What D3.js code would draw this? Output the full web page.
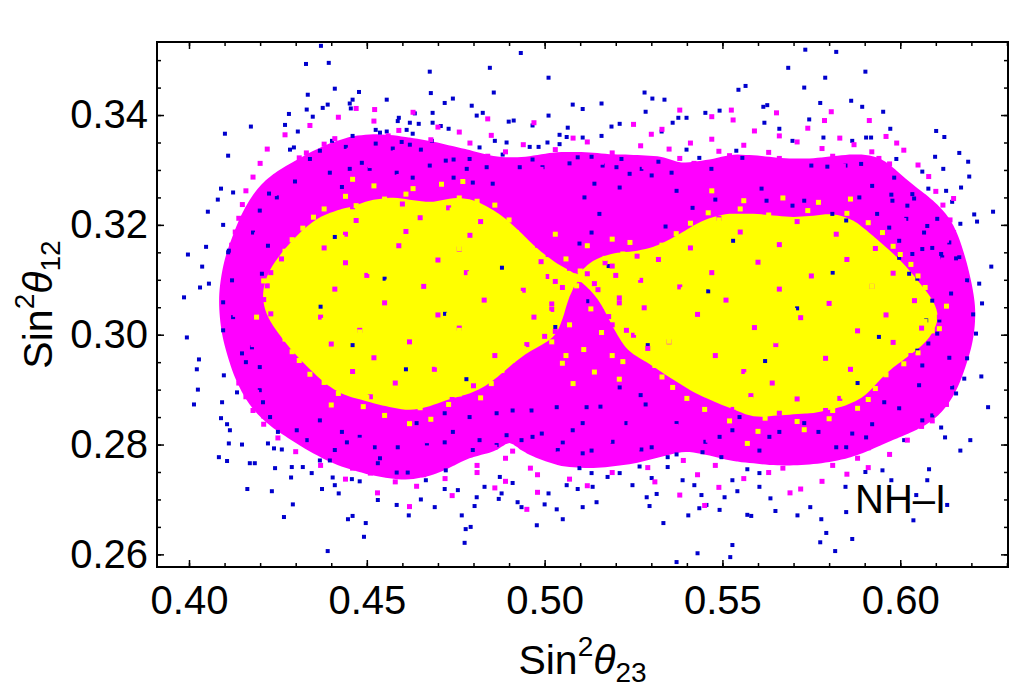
<!DOCTYPE html>
<html>
<head>
<meta charset="utf-8">
<script src="https://cdn.jsdelivr.net/npm/d3@7"></script>
<style>
  body { margin: 0; background: #fff; }
  text { font-family: "Liberation Sans", Arial, Helvetica, sans-serif; }
</style>
</head>
<body>
<svg id="chart" width="1024" height="690"></svg>
<script>
// tick labels
const xTicks = [0.40, 0.45, 0.50, 0.55, 0.60];
const yTicks = [0.26, 0.28, 0.30, 0.32, 0.34];
const panelLabel = 'NH\u2013I';

// [sin^2 theta23, sin^2 theta12]
const bluePts = [
  [.4371,.3526],[.4329,.3493],[.4393,.3495],[.4933,.3513],[.4677,.3479],[.4846,.3486],[.5011,.3468],[.4334,.3437],[.441,.3448],[.4478,.3442],
  [.4556,.3428],[.468,.344],[.4857,.3441],[.4101,.3366],[.411,.3326],[.4174,.3379],[.4281,.3402],[.427,.3382],[.409,.3266],[.4081,.3246],
  [.4053,.3224],[.4124,.3259],[.4096,.32],[.3997,.3146],[.4048,.316],[.4037,.3124],[.4031,.3086],[.4112,.3153],[.4795,.3417],[.4826,.3404],
  [.4899,.3388],[.5011,.3399],[.5079,.3419],[.5042,.3364],[.4966,.3381],[.4635,.3403],[.4587,.3389],
  [.5733,.3519],[.582,.3515],[.5685,.3486],[.5789,.3468],[.5902,.3479],[.573,.345],[.5565,.3453],[.5545,.3446],[.5775,.3422],[.5862,.3426],
  [.5893,.3415],[.5952,.3406],[.5972,.3375],[.6101,.3371],[.6124,.336],[.6166,.3331],[.6191,.3315],[.6194,.3288],[.6171,.3268],[.6208,.3219],
  [.6216,.3206],[.6261,.3224],[.6256,.3124],[.6062,.3297],[.6121,.3302],[.6098,.3324],[.6129,.3262],[.6079,.3266],[.6146,.3242],[.6169,.3202],
  [.6138,.3168],[.6157,.3139],[.5107,.3411],[.516,.3421],[.5281,.3441],[.5303,.343],[.5337,.3428],[.5452,.3404],[.5492,.3408],[.5615,.3415],
  [.5626,.3418],[.5284,.3406],[.5744,.3392],[.5399,.3395],[.5376,.3395],[.5211,.3384],[.5188,.3379],[.5329,.337],[.536,.3386],[.5107,.3359],[.516,.3362],
  [.6222,.3093],[.623,.3057],[.6205,.3037],[.6213,.3002],[.6188,.2957],[.6228,.2924],[.618,.292],[.6157,.2893],[.6247,.2868],[.6197,.2808],
  [.6169,.2789],[.6126,.2813],[.609,.2853],[.6115,.2831],[.6062,.2844],[.6081,.2755],[.6076,.2735],[.5975,.2735],[.595,.2753],[.6045,.2708],
  [.6037,.2662],[.6132,.269],[.5902,.275],[.5846,.2723],[.5848,.2677],[.5792,.2639],[.5817,.2606],[.5865,.2628],[.5775,.2622],[.5778,.2664],
  [.5747,.2686],[.5711,.2671],[.5635,.2702],[.5649,.2679],[.5581,.267],[.557,.2672],[.5528,.2617],[.5522,.2595],[.543,.2602],[.5371,.2586],
  [.5334,.2657],[.5404,.2671],[.5435,.2684],[.5455,.269],[.5492,.2681],[.5506,.2704],[.5542,.2715],[.5604,.2723],[.5528,.2735],[.557,.2755],
  [.5604,.2748],[.5497,.2777],[.5441,.2708],[.5388,.2735],[.5346,.2759],[.5421,.2726],[.5315,.271],[.5295,.2688],[.5287,.2704],[.5247,.2726],
  [.5211,.2748],[.5177,.2741],[.5135,.2723],[.5107,.2686],[.5146,.2695],[.5098,.2757],[.5132,.2748],[.5301,.2739],[.5371,.2782],[.5346,.2777],
  [.5267,.276],[.5272,.2791],[.5301,.2795],[.5132,.2789],[.5107,.2784],[.5191,.2805],[.523,.2839],[.5157,.2869],[.5118,.2868],[.5107,.2839],
  [.5211,.2904],[.527,.289],[.5284,.2873],[.5371,.2839],[.5444,.2786],[.5452,.2805],[.5492,.2814],[.5528,.2826],[.5548,.285],[.5604,.2789],
  [.5632,.2814],[.566,.2823],[.573,.2839],[.577,.2823],[.582,.2795],[.5848,.2795],[.5865,.282],[.5904,.2813],[.5921,.2837],[.5955,.2877],
  [.5997,.2866],[.6011,.2808],[.6053,.2908],[.6062,.2944],[.6048,.2971],[.6079,.2984],[.6104,.3002],[.6138,.2958],[.6146,.2904],[.611,.3026],
  [.609,.3062],[.6143,.3075],[.6073,.3026],[.6118,.3141],[.6166,.3141],[.6048,.3102],
  [.3986,.3068],[.4056,.3093],[.3994,.2995],[.4028,.2955],[.4022,.2937],[.4025,.29],[.4014,.2873],[.4098,.2926],[.4096,.3008],[.409,.2848],
  [.4107,.2837],[.4115,.2826],[.4112,.2802],[.4084,.2777],[.4107,.277],[.4093,.2877],[.4135,.2895],[.4149,.28],[.4164,.2719],[.4171,.2766],
  [.4185,.2766],[.4233,.2715],[.4242,.2757],[.4267,.2668],[.4292,.2691],[.4287,.274],[.432,.2759],[.4345,.2748],[.4374,.2719],[.441,.2726],
  [.4421,.2711],[.439,.2606],[.4447,.2664],[.446,.267],[.4492,.2632],[.4497,.2657],[.4531,.2699],[.4584,.269],[.4618,.2671],[.4652,.27],
  [.4691,.2686],[.4719,.2719],[.4767,.2671],[.4775,.2621],[.4778,.2646],[.4792,.265],[.4803,.2688],[.4809,.2704],[.4831,.2723],[.4871,.2701],
  [.4879,.2711],[.4924,.2695],[.4935,.2686],[.4978,.2653],[.5,.2691],[.5011,.2711],[.5034,.2682],[.5051,.2664],[.5062,.2726],[.5093,.2719],
  [.491,.273],[.4874,.2741],[.4756,.2717],[.4722,.2753],[.4666,.2735],[.4615,.2749],[.4584,.2749],[.4531,.2766],[.448,.2733],[.4458,.2737],
  [.4404,.274],[.4289,.2759],[.4261,.2791],[.4239,.2793],[.4222,.2802],[.4368,.2771],[.4396,.2771],[.441,.279],[.4444,.2804],[.448,.2814],
  [.4537,.2775],[.4587,.2795],[.4669,.2802],[.4719,.2804],[.4742,.2823],[.4798,.279],[.4817,.2808],[.4865,.2799],[.4893,.2817],[.4935,.2808],
  [.4966,.2814],[.4992,.282],[.5037,.279],[.5051,.2804],[.5079,.2826],[.5034,.2868],[.4963,.2862],[.491,.2862],[.4865,.2857],[.4789,.285],
  [.4719,.2857],[.464,.2839],[.4522,.2795],[.443,.2823],[.4368,.2844],[.4331,.2808],[.4303,.2826],[.425,.2823],[.4228,.285],[.4208,.2877],
  [.4199,.2899],[.416,.295],[.4149,.2966],[.4199,.2941],[.4177,.2977],[.4124,.3032],[.4096,.3059],[.411,.315],[.4121,.3099],
  [.4306,.337],[.4284,.3337],[.4295,.3341],[.4368,.3335],[.434,.332],[.4348,.3397],[.4331,.341],[.4376,.3413],[.439,.3419],[.4452,.3421],
  [.4455,.3412],[.446,.3428],[.4402,.3353],[.446,.3362],[.4441,.3342],[.4525,.3373],[.4537,.3368],[.4556,.337],[.459,.3395],[.4612,.3373],
  [.4621,.3386],[.4646,.3384],[.4685,.3386],[.4708,.338],[.473,.3375],[.4685,.3404],[.4719,.3422],[.4742,.343],[.4629,.3366],[.4525,.3348],
  [.4573,.3339],[.4598,.3351],[.4621,.3346],[.4652,.3337],[.4683,.3353],[.4722,.3317],[.4744,.3319],[.4789,.332],[.4817,.3341],[.4809,.3399],
  [.486,.3353],[.4882,.3328],[.4893,.335],[.4913,.339],[.4958,.3342],[.4983,.3342],[.5008,.335],[.5042,.3347],[.5062,.336],[.5065,.3377],
  [.5093,.3323],[.493,.3305],[.4966,.3319],[.4994,.3305],[.507,.3312],[.4837,.3305],[.4584,.3295],[.4629,.3286],[.4677,.3308],[.4744,.3286],
  [.4781,.3302],[.4798,.3277],[.4854,.3275],[.4486,.3313],[.4508,.3302],[.4452,.3302],[.443,.3269],[.4396,.3295],[.4298,.3279],[.4247,.325],
  [.4225,.3257],[.4199,.3226],[.418,.3186],[.4222,.3162],[.4205,.3111],
  [.5132,.3324],[.5163,.3308],[.5202,.3305],[.5216,.332],[.5239,.3293],[.5272,.3302],[.5301,.329],[.532,.3315],[.5357,.3295],[.5399,.3337],
  [.5435,.3322],[.5469,.3302],[.5539,.3335],[.5556,.3322],[.5618,.3386],[.566,.3375],[.5697,.3353],[.575,.3308],[.5784,.3359],[.5795,.3306],
  [.5846,.3308],[.5865,.3353],[.5904,.3359],[.5918,.3359],[.589,.3311],[.5989,.332],[.5983,.3286],[.5921,.3271],[.5975,.3255],[.5978,.3244],
  [.6034,.3256],[.6039,.3248],[.602,.3235],[.6017,.3211],[.6076,.3198],[.6067,.3186],[.6104,.3211],[.6115,.3147],[.609,.3158],[.6062,.3156],
  [.6188,.3099],[.5997,.3171],[.6034,.3147],[.514,.3275],[.5211,.3268],[.5112,.325],[.5154,.322],[.5132,.3186],[.5098,.3166],[.5371,.3262],
  [.5416,.3231],[.548,.3246],[.561,.3266],[.5624,.3244],[.5697,.3235],[.573,.3244],[.5809,.322],[.5848,.3208],[.5885,.325],[.5935,.322],
  [.5969,.3195],[.5997,.314],[.6025,.3111],
  [.455,.3102],[.472,.3038],[.446,.2981],[.488,.3122],[.461,.2937],[.437,.3051],[.503,.3014],[.518,.3125],[.529,.2981],[.546,.3079],
  [.562,.2952],[.581,.3113],[.594,.2996],[.571,.3048],[.553,.3171],[.588,.2912],[.441,.3178],[.478,.2919],[.512,.3061],[.534,.3197]
];

const magentaPts = [
  [.447,.3412],[.4522,.341],[.463,.3405],[.538,.3409],[.5525,.3409],[.5652,.3404],[.5806,.3406],
  [.442,.3396],[.484,.3393],[.547,.3397],
  [.434,.3381],[.452,.3389],[.470,.3378],[.497,.3386],[.525,.3383],[.553,.3391],[.5787,.339],[.5913,.339],
  [.459,.3372],[.476,.3369],[.533,.3374],[.559,.3371],[.574,.3376],
  [.427,.3364],[.441,.3357],[.456,.3362],[.468,.3355],[.485,.3363],[.508,.3358],[.530,.3365],[.547,.3356],[.566,.3362],[.583,.3358],[.596,.3361],
  [.438,.3347],[.451,.3352],[.464,.3344],[.479,.3349],[.494,.3346],[.512,.3351],[.527,.3344],[.541,.3349],[.556,.3345],[.571,.3351],[.587,.3346],[.599,.3349],
  [.422,.3338],[.433,.3331],[.445,.3336],[.458,.3332],[.472,.3339],[.489,.3333],[.503,.3337],[.519,.3331],[.535,.3338],[.549,.3334],[.563,.3332],[.578,.3339],[.592,.3333],[.601,.3336],
  [.431,.3322],[.446,.3326],[.467,.3321],[.484,.3325],[.498,.3321],[.511,.3326],[.538,.3321],[.552,.3326],[.566,.3321],[.581,.3325],[.594,.3321],
  [.420,.3312],[.429,.3306],[.440,.3314],[.451,.3308],[.462,.3315],[.476,.3307],[.491,.3313],[.505,.3309],[.516,.3314],[.528,.3306],[.542,.3312],[.557,.3308],[.571,.3315],[.584,.3307],[.597,.3311],[.605,.3309],
  [.418,.3287],[.426,.3281],[.436,.3289],[.448,.3283],[.459,.3288],[.471,.3282],[.484,.3286],[.497,.3281],[.509,.3289],[.521,.3284],[.534,.3288],[.548,.3282],[.562,.3287],[.575,.3283],[.589,.3286],[.600,.3281],[.608,.3288],
  [.416,.3262],[.424,.3257],[.433,.3264],[.445,.3258],[.457,.3263],[.469,.3256],[.482,.3261],[.494,.3257],[.506,.3264],[.518,.3258],[.531,.3262],[.545,.3256],[.559,.3263],[.573,.3259],[.588,.3262],[.599,.3257],[.610,.3261],
  [.415,.3237],[.422,.3232],[.431,.3239],[.446,.3233],[.460,.3238],[.473,.3231],[.489,.3236],[.500,.3232],[.511,.3239],[.524,.3234],[.537,.3237],[.552,.3231],[.568,.3238],[.582,.3233],[.596,.3237],[.604,.3232],[.612,.3236],
  [.414,.3212],[.421,.3207],[.429,.3214],[.447,.3208],[.465,.3213],[.482,.3206],[.497,.3212],[.508,.3208],[.519,.3214],[.531,.3207],[.549,.3212],[.571,.3206],[.590,.3213],[.601,.3208],[.608,.3214],[.614,.3209],
  [.413,.3187],[.419,.3182],[.427,.3189],[.444,.3183],[.461,.3188],[.479,.3181],[.496,.3186],[.507,.3182],[.516,.3189],[.529,.3184],[.555,.3187],[.582,.3183],[.600,.3188],[.609,.3182],[.615,.3186],
  [.412,.3163],[.418,.3157],[.425,.3164],[.438,.3158],[.459,.3162],[.476,.3156],[.498,.3163],[.510,.3157],[.521,.3161],[.541,.3158],[.566,.3164],[.593,.3157],[.604,.3162],[.611,.3158],[.616,.3163],
  [.413,.3137],[.419,.3132],[.426,.3138],[.444,.3131],[.470,.3136],[.499,.3133],[.508,.3138],[.517,.3131],[.532,.3137],[.560,.3132],[.585,.3137],[.606,.3131],[.612,.3136],[.617,.3133],
  [.412,.3112],[.417,.3107],[.423,.3113],[.450,.3108],[.478,.3113],[.501,.3106],[.512,.3111],[.520,.3108],[.547,.3113],[.575,.3107],[.598,.3112],[.607,.3106],[.614,.3111],
  [.413,.3087],[.418,.3082],[.422,.3089],[.441,.3083],[.466,.3088],[.494,.3081],[.505,.3086],[.515,.3082],[.538,.3087],[.566,.3083],[.592,.3088],[.610,.3082],[.616,.3086],
  [.412,.3062],[.416,.3057],[.421,.3064],[.455,.3058],[.483,.3063],[.502,.3056],[.511,.3061],[.521,.3058],[.551,.3063],[.580,.3057],[.604,.3062],[.612,.3058],[.617,.3063],
  [.413,.3037],[.418,.3031],[.423,.3038],[.437,.3032],[.470,.3036],[.497,.3032],[.507,.3038],[.518,.3033],[.543,.3037],[.572,.3031],[.596,.3036],[.611,.3032],[.616,.3037],
  [.412,.3012],[.417,.3007],[.422,.3013],[.448,.3008],[.476,.3012],[.503,.3006],[.514,.3011],[.523,.3008],[.559,.3013],[.588,.3007],[.606,.3012],[.613,.3008],[.617,.3011],
  [.413,.2987],[.418,.2982],[.424,.2988],[.440,.2983],[.462,.2987],[.495,.2982],[.506,.2988],[.516,.2983],[.535,.2987],[.565,.2982],[.598,.2986],[.610,.2983],[.615,.2988],
  [.413,.2962],[.419,.2957],[.425,.2963],[.452,.2958],[.486,.2962],[.500,.2957],[.510,.2963],[.520,.2958],[.548,.2962],[.579,.2957],[.603,.2962],[.611,.2958],[.616,.2963],
  [.414,.2937],[.420,.2932],[.427,.2938],[.446,.2933],[.469,.2937],[.493,.2932],[.504,.2938],[.513,.2932],[.523,.2937],[.556,.2933],[.586,.2937],[.601,.2932],[.609,.2936],[.615,.2933],
  [.414,.2912],[.421,.2907],[.429,.2913],[.437,.2908],[.458,.2912],[.480,.2907],[.497,.2913],[.507,.2908],[.517,.2912],[.530,.2907],[.564,.2912],[.597,.2908],[.604,.2913],[.610,.2907],[.614,.2911],
  [.416,.2887],[.423,.2882],[.430,.2888],[.439,.2883],[.451,.2887],[.474,.2882],[.490,.2888],[.501,.2883],[.511,.2887],[.521,.2882],[.535,.2888],[.558,.2889],[.571,.2883],[.583,.2884],[.596,.2887],[.603,.2882],[.608,.2888],[.612,.2883],
  [.418,.2862],[.425,.2857],[.432,.2863],[.441,.2858],[.449,.2862],[.463,.2857],[.483,.2863],[.495,.2858],[.506,.2862],[.516,.2857],[.527,.2863],[.541,.2858],[.553,.2864],[.566,.2857],[.579,.2862],[.592,.2862],[.599,.2857],[.605,.2863],[.610,.2858],
  [.421,.2837],[.428,.2832],[.435,.2838],[.443,.2833],[.452,.2837],[.461,.2832],[.476,.2838],[.489,.2833],[.501,.2837],[.512,.2832],[.524,.2838],[.537,.2833],[.549,.2837],[.562,.2835],[.575,.2838],[.588,.2832],[.598,.2838],[.606,.2833],
  [.425,.2812],[.432,.2807],[.440,.2813],[.448,.2808],[.457,.2812],[.467,.2807],[.479,.2813],[.492,.2808],[.505,.2812],[.518,.2807],[.531,.2813],[.546,.2808],[.565,.2812],[.583,.2807],[.596,.2813],[.602,.2808],
  [.436,.2798],[.451,.2794],[.463,.2799],[.486,.2795],[.511,.2799],[.526,.2794],[.541,.2797],[.558,.2793],[.575,.2798],[.591,.2794],
  [.430,.2787],[.438,.2782],[.447,.2788],[.456,.2783],[.466,.2787],[.478,.2782],[.491,.2788],[.504,.2783],[.517,.2787],[.532,.2782],[.549,.2788],[.568,.2783],[.584,.2787],[.597,.2782],
  [.443,.2772],[.461,.2776],[.474,.2771],[.489,.2775],[.503,.2771],[.522,.2776],[.539,.2771],[.557,.2775],[.573,.2771],[.588,.2775],
  [.437,.2762],[.446,.2757],[.457,.2763],[.468,.2758],[.481,.2762],[.496,.2757],[.511,.2763],[.529,.2758],[.548,.2762],[.567,.2757],[.581,.2762],[.591,.2758],
  [.451,.2748],[.466,.2745],[.481,.2749],[.498,.2745],[.519,.2749],[.543,.2745],[.563,.2749],[.585,.2746],
  [.444,.2737],[.458,.2732],[.472,.2738],[.489,.2733],[.507,.2737],[.531,.2732],[.556,.2738],[.578,.2733],
  [.464,.2724],[.486,.2721],[.512,.2725],[.549,.2722],[.572,.2719],
  [.453,.2712],[.474,.2707],[.498,.2713],[.538,.2708],[.569,.2712],
  [.462,.2687],[.495,.2682],[.545,.2689],
  // sides
  [.416,.3112],[.415,.3038],[.417,.2962],[.419,.2895],[.615,.3248],[.613,.3172],[.618,.3091],[.619,.3024],[.617,.2948],[.613,.2873],
  [.609,.2843],[.419,.3248],[.421,.2852],
  // between the lobes
  [.499,.3301],[.513,.3296],[.526,.3303],[.504,.3272],[.517,.3268],[.529,.3275],[.497,.3247],[.509,.3251],[.522,.3244],[.503,.3221],
  [.514,.3226],[.527,.3219],[.498,.3196],[.511,.3199],[.524,.3193],[.505,.3171],[.516,.3176],[.529,.3169],[.501,.3146],[.513,.3149],
  [.526,.3143],[.507,.3121],[.519,.3125],[.503,.3097],[.514,.3093],[.527,.3099],[.509,.3071],[.521,.3067],[.502,.3046],[.516,.3042],
  [.528,.3049],[.507,.3022],[.519,.3018],[.500,.2997],[.512,.2993],[.525,.2999],[.505,.2972],[.517,.2968],[.529,.2975],[.501,.2947],
  [.513,.2943],[.526,.2949],[.507,.2921],[.519,.2918],[.531,.2924],[.504,.2896],[.516,.2892],[.528,.2899],[.510,.2871],[.522,.2867],
  [.534,.2874],[.507,.2846],[.519,.2842],[.531,.2849],[.513,.2821],[.526,.2817],[.509,.2797],[.523,.2793]
];

const yellowPts = [
  // left lobe
  [.452,.3271],[.463,.3266],[.471,.3274],
  [.444,.3252],[.455,.3247],[.461,.3256],[.476,.3249],[.481,.3243],
  [.438,.3229],[.447,.3235],[.458,.3224],[.466,.3232],[.474,.3227],[.486,.3236],
  [.435,.3214],[.441,.3206],[.453,.3217],[.459,.3208],[.470,.3213],[.478,.3205],[.484,.3216],[.490,.3209],
  [.432,.3194],[.440,.3187],[.448,.3196],[.455,.3189],[.463,.3193],[.469,.3185],[.477,.3197],[.485,.3190],[.492,.3186],
  [.429,.3173],[.436,.3166],[.443,.3177],[.452,.3169],[.458,.3175],[.466,.3167],[.473,.3172],[.481,.3178],[.487,.3165],[.494,.3171],
  [.427,.3152],[.434,.3145],[.441,.3156],[.447,.3148],[.455,.3154],[.462,.3146],[.468,.3151],[.476,.3157],[.483,.3144],[.489,.3152],[.496,.3148],
  [.426,.3127],[.431,.3135],[.439,.3128],[.446,.3136],[.452,.3125],[.460,.3133],[.467,.3129],[.473,.3137],[.480,.3126],[.488,.3134],[.497,.3128],
  [.425,.3109],[.433,.3104],[.438,.3113],[.445,.3106],[.451,.3115],[.457,.3107],[.464,.3112],[.471,.3104],[.479,.3111],[.485,.3106],[.492,.3114],[.499,.3108],
  [.424,.3089],[.429,.3095],[.436,.3086],[.442,.3094],[.449,.3087],[.456,.3096],[.462,.3088],[.469,.3093],[.475,.3085],[.482,.3092],[.490,.3087],[.497,.3095],
  [.423,.3071],[.431,.3066],[.437,.3075],[.444,.3068],[.450,.3073],[.458,.3065],[.465,.3074],[.472,.3067],[.478,.3072],[.486,.3066],[.493,.3075],[.500,.3069],
  [.424,.3054],[.430,.3047],[.439,.3052],[.445,.3045],[.453,.3056],[.459,.3048],[.466,.3053],[.474,.3046],[.481,.3055],[.487,.3049],[.495,.3052],
  [.425,.3028],[.432,.3035],[.438,.3026],[.446,.3033],[.452,.3027],[.460,.3034],[.467,.3029],[.473,.3036],[.480,.3025],[.488,.3032],[.494,.3027],[.499,.3034],
  [.426,.3013],[.433,.3006],[.440,.3014],[.448,.3005],[.455,.3012],[.461,.3007],[.469,.3015],[.476,.3008],[.483,.3013],[.490,.3006],[.497,.3011],
  [.427,.2992],[.435,.2985],[.442,.2994],[.449,.2987],[.457,.2993],[.464,.2986],[.471,.2995],[.478,.2988],[.485,.2992],[.493,.2986],
  [.429,.2969],[.437,.2975],[.444,.2966],[.451,.2973],[.459,.2968],[.466,.2976],[.473,.2967],[.480,.2974],[.488,.2969],[.494,.2975],
  [.431,.2953],[.439,.2946],[.447,.2955],[.454,.2948],[.462,.2954],[.470,.2945],[.477,.2952],[.484,.2947],[.491,.2954],
  [.434,.2928],[.442,.2935],[.450,.2926],[.458,.2933],[.465,.2927],[.474,.2934],[.481,.2929],[.488,.2935],
  [.438,.2913],[.446,.2906],[.454,.2912],[.462,.2905],[.470,.2914],[.478,.2907],[.485,.2911],
  [.442,.2893],[.450,.2886],[.459,.2894],[.467,.2888],[.476,.2892],[.482,.2885],
  [.449,.2869],[.457,.2875],[.465,.2867],[.473,.2873],
  [.455,.2853],[.468,.2846],
  [.419,.3032],[.421,.3098],[.446,.3283],[.477,.3279],[.462,.2838],[.440,.2872],
  // right lobe
  [.556,.3244],[.567,.3249],[.577,.3241],
  [.546,.3222],[.555,.3229],[.563,.3218],[.574,.3226],[.585,.3221],
  [.541,.3203],[.549,.3209],[.558,.3201],[.566,.3207],[.576,.3202],[.583,.3208],[.591,.3204],
  [.537,.3184],[.545,.3189],[.552,.3181],[.561,.3187],[.569,.3183],[.578,.3189],[.587,.3182],[.595,.3186],
  [.533,.3163],[.540,.3168],[.548,.3161],[.556,.3167],[.564,.3162],[.571,.3169],[.579,.3164],[.588,.3167],[.598,.3161],
  [.530,.3144],[.537,.3149],[.545,.3142],[.552,.3148],[.560,.3143],[.568,.3147],[.575,.3141],[.583,.3149],[.591,.3144],[.600,.3146],
  [.528,.3123],[.535,.3128],[.543,.3121],[.550,.3127],[.558,.3122],[.565,.3128],[.573,.3124],[.581,.3121],[.588,.3127],[.596,.3122],[.603,.3128],
  [.526,.3104],[.533,.3101],[.541,.3108],[.548,.3102],[.556,.3107],[.563,.3103],[.571,.3108],[.578,.3101],[.586,.3106],[.594,.3103],[.605,.3107],
  [.525,.3084],[.532,.3089],[.539,.3082],[.547,.3087],[.554,.3083],[.561,.3088],[.569,.3081],[.576,.3086],[.584,.3083],[.592,.3088],[.600,.3082],[.607,.3086],
  [.524,.3066],[.531,.3061],[.538,.3068],[.546,.3062],[.553,.3067],[.560,.3063],[.567,.3069],[.575,.3061],[.582,.3066],[.590,.3062],[.598,.3068],[.606,.3063],
  [.525,.3043],[.533,.3048],[.540,.3041],[.548,.3047],[.555,.3042],[.562,.3049],[.570,.3044],[.577,.3047],[.585,.3041],[.593,.3048],[.601,.3043],[.609,.3046],
  [.524,.3027],[.532,.3022],[.539,.3028],[.546,.3021],[.554,.3026],[.561,.3023],[.568,.3029],[.576,.3022],[.583,.3027],[.591,.3021],[.599,.3028],[.607,.3024],
  [.526,.3004],[.534,.3009],[.541,.3002],[.549,.3007],[.556,.3003],[.563,.3008],[.571,.3001],[.578,.3006],[.586,.3002],[.594,.3008],[.602,.3003],[.609,.3007],
  [.527,.2983],[.535,.2988],[.543,.2981],[.550,.2987],[.558,.2982],[.565,.2989],[.573,.2984],[.580,.2987],[.588,.2981],[.596,.2988],[.604,.2984],
  [.529,.2964],[.537,.2961],[.544,.2968],[.552,.2962],[.559,.2967],[.567,.2963],[.574,.2968],[.582,.2961],[.590,.2966],[.598,.2963],[.605,.2967],
  [.531,.2944],[.539,.2949],[.547,.2942],[.554,.2948],[.562,.2943],[.569,.2947],[.577,.2941],[.585,.2949],[.593,.2944],[.601,.2947],
  [.533,.2923],[.541,.2928],[.549,.2921],[.557,.2927],[.565,.2922],[.572,.2928],[.580,.2924],[.588,.2921],[.596,.2927],
  [.536,.2904],[.545,.2901],[.553,.2908],[.561,.2902],[.569,.2907],[.577,.2903],[.585,.2908],[.593,.2902],
  [.540,.2884],[.549,.2889],[.558,.2882],[.566,.2887],[.575,.2883],[.584,.2888],[.591,.2882],
  [.545,.2864],[.554,.2868],[.563,.2861],[.572,.2867],[.581,.2862],[.588,.2866],
  [.552,.2843],[.562,.2848],[.571,.2842],[.580,.2847],
  [.560,.2824],[.573,.2827],
  [.613,.3052],[.611,.3011],[.522,.2951],[.547,.3262],[.586,.3247],[.557,.2802],
  // between the lobes
  [.503,.3183],[.512,.3162],[.519,.3174],[.506,.3138],[.515,.3121],[.522,.3147],[.502,.3106],[.509,.3089],[.517,.3098],[.523,.3072],
  [.504,.3061],[.513,.3047],[.520,.3036],[.507,.3018],[.516,.3004],[.502,.2987],[.511,.2973],[.519,.2962],[.505,.2948],[.514,.2932],
  [.521,.2919],[.508,.2911],[.517,.3139],[.510,.3116],[.501,.3039],[.518,.3083],[.524,.3168],[.506,.2962]
];

const width = 1024, height = 690;
const plotLeft = 157, plotRight = 1008, plotTop = 42, plotBottom = 567;

const x = d3.scaleLinear().domain([0.391, 0.6303]).range([plotLeft, plotRight]);
const y = d3.scaleLinear().domain([0.2577, 0.3533]).range([plotBottom, plotTop]);

const svg = d3.select('#chart');

svg.append('defs').append('clipPath').attr('id', 'plot-clip')
  .append('rect')
  .attr('x', plotLeft).attr('y', plotTop)
  .attr('width', plotRight - plotLeft).attr('height', plotBottom - plotTop);

const plot = svg.append('g').attr('clip-path', 'url(#plot-clip)');

// the clouds are too dense to draw point by point, so the solid inner
// parts come from a density estimate of the same points
function densityFill(pts, bw, frac, color) {
  const contours = d3.contourDensity()
    .x(d => x(d[0]))
    .y(d => y(d[1]))
    .size([width, height])
    .bandwidth(bw)
    .thresholds(50)(pts);
  const maxV = d3.max(contours, c => c.value);
  const c = contours.find(c => c.value >= frac * maxV);
  if (c) {
    plot.append('path')
      .attr('d', d3.geoPath()(c))
      .attr('fill', color);
  }
}

densityFill(magentaPts.concat(yellowPts), 26, 0.37, '#ff00ff');
densityFill(yellowPts, 18, 0.62, '#ffff00');

function dots(pts, color, s) {
  plot.append('g')
    .selectAll('rect')
    .data(pts)
    .join('rect')
    .attr('x', d => x(d[0]) - s / 2)
    .attr('y', d => y(d[1]) - s / 2)
    .attr('width', s)
    .attr('height', s)
    .attr('fill', color);
}

dots(bluePts, '#0000cd', 4);
dots(magentaPts, '#ff00ff', 5);
dots(yellowPts, '#ffff00', 5);

// frame ticks (inside, on all four sides)
const xMinor = d3.range(40, 64).map(i => i / 100);
const yMinor = d3.range(52, 71).map(i => i / 200);
const fmt = d3.format('.2f');

function styleAxis(g) {
  g.select('.domain').remove();
  g.selectAll('line').attr('stroke', '#000').attr('stroke-width', 1.5);
  g.attr('font-family', '"Liberation Sans", Arial, sans-serif').attr('font-size', 40);
  g.selectAll('text').attr('fill', '#000');
}

svg.append('g').attr('transform', `translate(0,${plotBottom})`)
  .call(d3.axisBottom(x).tickValues(xMinor).tickSize(-4).tickSizeOuter(0).tickFormat(''))
  .call(styleAxis);
svg.append('g').attr('transform', `translate(0,${plotBottom})`)
  .call(d3.axisBottom(x).tickValues(xTicks).tickSize(-7).tickSizeOuter(0).tickPadding(19).tickFormat(fmt))
  .call(styleAxis);
svg.append('g').attr('transform', `translate(0,${plotTop})`)
  .call(d3.axisTop(x).tickValues(xMinor).tickSize(-4).tickSizeOuter(0).tickFormat(''))
  .call(styleAxis);
svg.append('g').attr('transform', `translate(0,${plotTop})`)
  .call(d3.axisTop(x).tickValues(xTicks).tickSize(-7).tickSizeOuter(0).tickFormat(''))
  .call(styleAxis);

svg.append('g').attr('transform', `translate(${plotLeft},0)`)
  .call(d3.axisLeft(y).tickValues(yMinor).tickSize(-4).tickSizeOuter(0).tickFormat(''))
  .call(styleAxis);
svg.append('g').attr('transform', `translate(${plotLeft},0)`)
  .call(d3.axisLeft(y).tickValues(yTicks).tickSize(-7).tickSizeOuter(0).tickPadding(9).tickFormat(fmt))
  .call(styleAxis);
svg.append('g').attr('transform', `translate(${plotRight},0)`)
  .call(d3.axisRight(y).tickValues(yMinor).tickSize(-4).tickSizeOuter(0).tickFormat(''))
  .call(styleAxis);
svg.append('g').attr('transform', `translate(${plotRight},0)`)
  .call(d3.axisRight(y).tickValues(yTicks).tickSize(-7).tickSizeOuter(0).tickFormat(''))
  .call(styleAxis);

svg.append('rect')
  .attr('x', plotLeft).attr('y', plotTop)
  .attr('width', plotRight - plotLeft).attr('height', plotBottom - plotTop)
  .attr('fill', 'none').attr('stroke', '#000').attr('stroke-width', 2);

// axis titles
const xTitle = svg.append('text')
  .attr('x', (plotLeft + plotRight) / 2).attr('y', 674)
  .attr('text-anchor', 'middle').attr('font-size', 41).attr('fill', '#000');
xTitle.append('tspan').text('Sin');
xTitle.append('tspan').attr('font-size', 28).attr('dy', -18).text('2');
xTitle.append('tspan').attr('font-style', 'italic').attr('dy', 18).text('\u03b8');
xTitle.append('tspan').attr('font-size', 28).attr('dy', 8).text('23');

const yTitle = svg.append('text')
  .attr('transform', `translate(52,${(plotTop + plotBottom) / 2}) rotate(-90)`)
  .attr('text-anchor', 'middle').attr('font-size', 41).attr('fill', '#000');
yTitle.append('tspan').text('Sin');
yTitle.append('tspan').attr('font-size', 28).attr('dy', -18).text('2');
yTitle.append('tspan').attr('font-style', 'italic').attr('dy', 18).text('\u03b8');
yTitle.append('tspan').attr('font-size', 28).attr('dy', 8).text('12');

svg.append('text')
  .attr('x', 855).attr('y', 513)
  .attr('font-size', 40).attr('fill', '#000')
  .text(panelLabel);
</script>
</body>
</html>
